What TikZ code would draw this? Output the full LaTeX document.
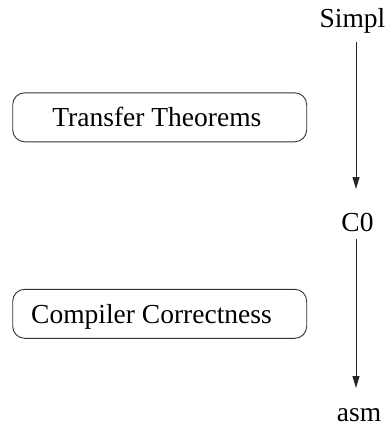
\documentclass[tikz,border=0pt]{standalone}
\usepackage{fontspec}
\setmainfont{Liberation Serif}
\usetikzlibrary{arrows.meta}
\begin{document}
\begin{tikzpicture}[x=1pt,y=-1pt,
  every node/.style={font=\fontsize{27.5}{33}\selectfont},
  lang/.style={inner sep=0pt},
  box/.style={draw=black!80,line width=0.9pt,rounded corners=12pt,
    minimum width=294pt,minimum height=49pt,inner sep=0pt},
  boxtext/.style={inner sep=0pt,anchor=base west},
  flow/.style={draw=black!85,line width=0.9pt,
    -{Triangle[length=12pt,width=7pt]},shorten >=1pt}]
  \useasboundingbox (0,0) rectangle (387,426);
  % language levels
  \node[lang,anchor=base] (simpl) at (352.5,27.5) {Simpl};
  \node[lang,anchor=base] (c0) at (357.5,231.5) {C0};
  \node[lang,anchor=base] (asm) at (359,421.5) {asm};
  \coordinate (s1) at (356,42);
  \coordinate (s2) at (356,190);
  \coordinate (c1) at (356,239);
  \coordinate (c2) at (356,389);
  \draw[flow] (s1) -- (s2);
  \draw[flow] (c1) -- (c2);
  % proof layers
  \node[box] (tt) at (159.7,117.3) {};
  \node[boxtext] (ttl) at (52.2,126.7) {Transfer Theorems};
  \node[box] (cc) at (159.7,313.8) {};
  \node[boxtext] (ccl) at (31,323.7) {Compiler Correctness};
\end{tikzpicture}
\end{document}
